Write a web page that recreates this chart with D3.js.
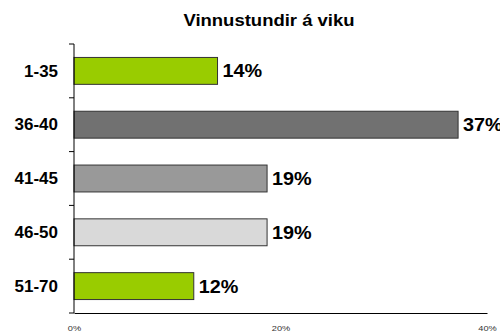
<!DOCTYPE html>
<html>
<head>
<meta charset="utf-8">
<script src="https://cdn.jsdelivr.net/npm/d3@7"></script>
<style>
  html, body { margin: 0; padding: 0; background: #fff; }
  svg { display: block; font-family: "Liberation Sans", Arial, sans-serif; }
</style>
</head>
<body>
<svg id="chart" width="500" height="334"></svg>
<script>
// Hours worked per week, share of respondents
const title = "Vinnustundir á viku";
const categories = ["1-35", "36-40", "41-45", "46-50", "51-70"];
const shares = [0.139, 0.372, 0.187, 0.187, 0.116];
const barColors = ["#99CC00", "#717171", "#999999", "#D9D9D9", "#99CC00"];
const xTicks = [0, 0.2, 0.4];

const svg = d3.select("#chart");

const x = d3.scaleLinear().domain([0, 0.4]).range([74, 487]);
const y = d3.scaleBand().domain(categories).range([44, 313])
  .paddingInner(0.5).paddingOuter(0.25);

const pct = d3.format(".0%");

// Widen glyphs horizontally, keeping the text anchor in place
function widen(sel, k) {
  sel.each(function () {
    const w = this.getComputedTextLength();
    d3.select(this).attr("textLength", w * k).attr("lengthAdjust", "spacingAndGlyphs");
  });
}

// Title
svg.append("text")
  .attr("x", 269).attr("y", 26)
  .attr("text-anchor", "middle")
  .attr("font-size", 16.5).attr("font-weight", "bold")
  .attr("fill", "#000")
  .text(title)
  .call(widen, 1.12);

// Bars
svg.append("g").selectAll("rect")
  .data(categories)
  .join("rect")
  .attr("x", x(0))
  .attr("y", d => y(d))
  .attr("width", (d, i) => x(shares[i]) - x(0))
  .attr("height", y.bandwidth())
  .attr("fill", (d, i) => barColors[i])
  .attr("stroke", "#333")
  .attr("stroke-width", 1);

// Value labels
svg.append("g").selectAll("text")
  .data(categories)
  .join("text")
  .attr("x", (d, i) => x(shares[i]) + 5)
  .attr("y", d => y(d) + y.bandwidth() / 2)
  .attr("dy", "0.36em")
  .attr("font-size", 18).attr("font-weight", "bold")
  .attr("fill", "#000")
  .text((d, i) => pct(shares[i]))
  .call(widen, 1.1);

// Category axis: vertical line with ticks at band boundaries
const step = y.step();
const boundaries = categories.map(c => y(c) - step * y.paddingInner() / 2)
  .concat([y(categories[categories.length - 1]) + y.bandwidth() + step * y.paddingInner() / 2]);

const yAxis = svg.append("g");
yAxis.append("line")
  .attr("x1", x(0)).attr("x2", x(0))
  .attr("y1", boundaries[0]).attr("y2", boundaries[boundaries.length - 1])
  .attr("stroke", "#000");
yAxis.selectAll("line.tick")
  .data(boundaries)
  .join("line")
  .attr("class", "tick")
  .attr("x1", x(0) - 5).attr("x2", x(0))
  .attr("y1", d => d).attr("y2", d => d)
  .attr("stroke", "#000");
yAxis.selectAll("text")
  .data(categories)
  .join("text")
  .attr("x", 58)
  .attr("y", d => y(d) + y.bandwidth() / 2)
  .attr("dy", "0.36em")
  .attr("text-anchor", "end")
  .attr("font-size", 16).attr("font-weight", "bold")
  .attr("fill", "#000")
  .text(d => d)
  .call(widen, 1.06);

// Value axis along the bottom
const xAxis = svg.append("g")
  .attr("transform", `translate(0,${boundaries[boundaries.length - 1]})`)
  .call(d3.axisBottom(x).tickValues(xTicks).tickSize(0).tickPadding(12).tickFormat(pct));
xAxis.select(".domain").attr("stroke", "#000");
xAxis.selectAll("text")
  .attr("font-size", 8)
  .attr("font-family", "'Liberation Sans', Arial, sans-serif")
  .attr("fill", "#333")
  .call(widen, 1.15);
</script>
</body>
</html>
